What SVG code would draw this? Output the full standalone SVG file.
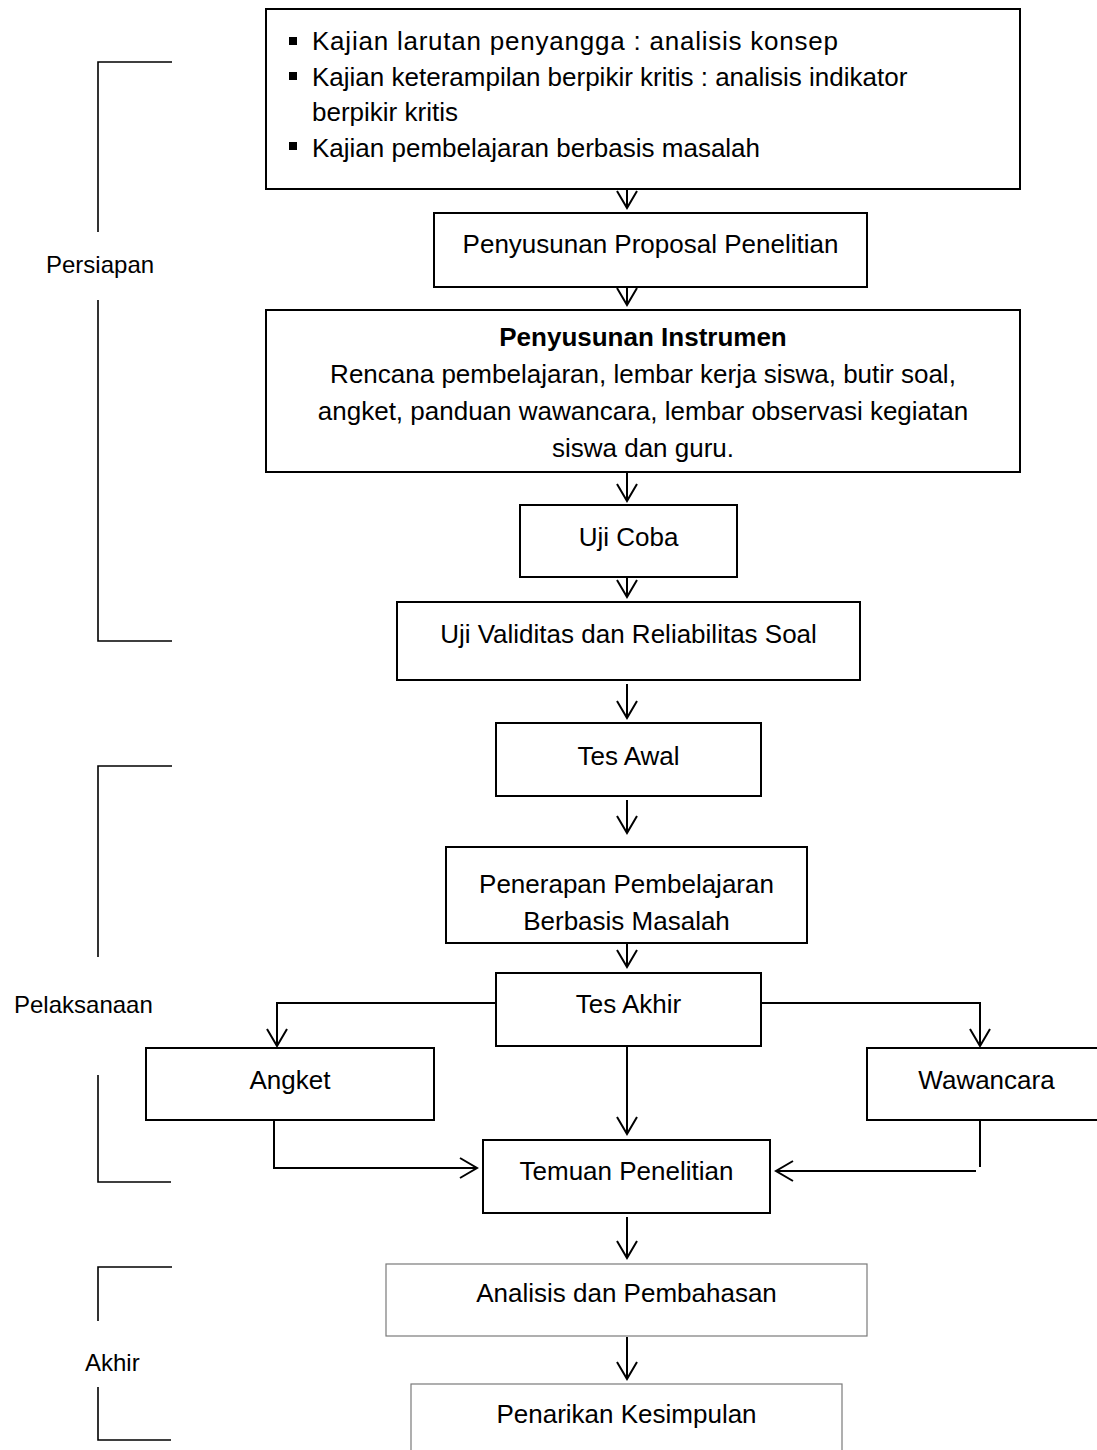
<svg xmlns="http://www.w3.org/2000/svg" width="1097" height="1450" viewBox="0 0 1097 1450">
<style>
.box{fill:#fff;stroke:#000;stroke-width:2}
.gbox{fill:#fff;stroke:#7a7a7a;stroke-width:1.2}
.t{font-family:"Liberation Sans",Arial,sans-serif;font-size:26px;fill:#000}
.c{text-anchor:middle}
.b{font-weight:bold}
.lbl{font-family:"Liberation Sans",Arial,sans-serif;font-size:24px;fill:#000}
.ln{fill:none;stroke:#000;stroke-width:2}
.br{fill:none;stroke:#000;stroke-width:1.6}
</style>
<defs>
<marker id="arr" markerWidth="22" markerHeight="24" refX="19" refY="12" orient="auto" markerUnits="userSpaceOnUse" viewBox="0 0 22 24">
<path d="M2,2 L19,12 L2,22" fill="none" stroke="#000" stroke-width="2"/>
</marker>
</defs>
<rect width="1097" height="1450" fill="#fff"/>

<g id="brackets">
<path class="br" d="M172,62 H98 V232"/>
<path class="br" d="M98,300 V641 H172"/>
<path class="br" d="M172,766 H98 V957"/>
<path class="br" d="M98,1075 V1182 H171"/>
<path class="br" d="M172,1267 H98 V1321"/>
<path class="br" d="M98,1387 V1440 H171"/>
<text class="lbl" x="46" y="273">Persiapan</text>
<text class="lbl" x="14" y="1013">Pelaksanaan</text>
<text class="lbl" x="85" y="1371">Akhir</text>
</g>

<g id="connectors">
<line class="ln" x1="627" y1="189" x2="627" y2="208" marker-end="url(#arr)"/>
<line class="ln" x1="627" y1="287" x2="627" y2="305" marker-end="url(#arr)"/>
<line class="ln" x1="627" y1="472" x2="627" y2="501" marker-end="url(#arr)"/>
<line class="ln" x1="627" y1="577" x2="627" y2="597" marker-end="url(#arr)"/>
<line class="ln" x1="627" y1="684" x2="627" y2="718" marker-end="url(#arr)"/>
<line class="ln" x1="627" y1="800" x2="627" y2="833" marker-end="url(#arr)"/>
<line class="ln" x1="627" y1="943" x2="627" y2="967" marker-end="url(#arr)"/>
<path class="ln" d="M496,1003 H277 V1046" marker-end="url(#arr)"/>
<path class="ln" d="M761,1003 H980 V1046" marker-end="url(#arr)"/>
<line class="ln" x1="627" y1="1046" x2="627" y2="1134" marker-end="url(#arr)"/>
<path class="ln" d="M274,1120 V1168 H477" marker-end="url(#arr)"/>
<path class="ln" d="M980,1120 V1167 M976,1171 H776" marker-end="url(#arr)"/>
<line class="ln" x1="627" y1="1217" x2="627" y2="1258" marker-end="url(#arr)"/>
<line class="ln" x1="627" y1="1337" x2="627" y2="1379" marker-end="url(#arr)"/>
</g>

<g id="kajian">
<rect class="box" x="266" y="9" width="754" height="180"/>
<rect x="289" y="37" width="8" height="8" fill="#000"/>
<rect x="289" y="72" width="8" height="8" fill="#000"/>
<rect x="289" y="142" width="8" height="8" fill="#000"/>
<text class="t" x="312" y="50" textLength="526" lengthAdjust="spacing">Kajian larutan penyangga : analisis konsep</text>
<text class="t" x="312" y="86">Kajian keterampilan berpikir kritis : analisis indikator</text>
<text class="t" x="312" y="121">berpikir kritis</text>
<text class="t" x="312" y="157">Kajian pembelajaran berbasis masalah</text>
</g>

<g id="proposal">
<rect class="box" x="434" y="213" width="433" height="74"/>
<text class="t c" x="650.5" y="253">Penyusunan Proposal Penelitian</text>
</g>

<g id="instrumen">
<rect class="box" x="266" y="310" width="754" height="162"/>
<text class="t c b" x="643" y="346">Penyusunan Instrumen</text>
<text class="t c" x="643" y="383">Rencana pembelajaran, lembar kerja siswa, butir soal,</text>
<text class="t c" x="643" y="420">angket, panduan wawancara, lembar observasi kegiatan</text>
<text class="t c" x="643" y="457">siswa dan guru.</text>
</g>

<g id="ujicoba">
<rect class="box" x="520" y="505" width="217" height="72"/>
<text class="t c" x="628.5" y="546">Uji Coba</text>
</g>

<g id="validitas">
<rect class="box" x="397" y="602" width="463" height="78"/>
<text class="t c" x="628.5" y="643">Uji Validitas dan Reliabilitas Soal</text>
</g>

<g id="tesawal">
<rect class="box" x="496" y="723" width="265" height="73"/>
<text class="t c" x="628.5" y="765">Tes Awal</text>
</g>

<g id="penerapan">
<rect class="box" x="446" y="847" width="361" height="96"/>
<text class="t c" x="626.5" y="893">Penerapan Pembelajaran</text>
<text class="t c" x="626.5" y="930">Berbasis Masalah</text>
</g>

<g id="tesakhir">
<rect class="box" x="496" y="973" width="265" height="73"/>
<text class="t c" x="628.5" y="1013">Tes Akhir</text>
</g>

<g id="angket">
<rect class="box" x="146" y="1048" width="288" height="72"/>
<text class="t c" x="290" y="1089">Angket</text>
</g>

<g id="wawancara">
<rect class="box" x="867" y="1048" width="240" height="72"/>
<text class="t c" x="986.5" y="1089">Wawancara</text>
</g>

<g id="temuan">
<rect class="box" x="483" y="1140" width="287" height="73"/>
<text class="t c" x="626.5" y="1180">Temuan Penelitian</text>
</g>

<g id="analisis">
<rect class="gbox" x="386" y="1264" width="481" height="72"/>
<text class="t c" x="626.5" y="1302">Analisis dan Pembahasan</text>
</g>

<g id="kesimpulan">
<rect class="gbox" x="411" y="1384" width="431" height="80"/>
<text class="t c" x="626.5" y="1423">Penarikan Kesimpulan</text>
</g>
</svg>
